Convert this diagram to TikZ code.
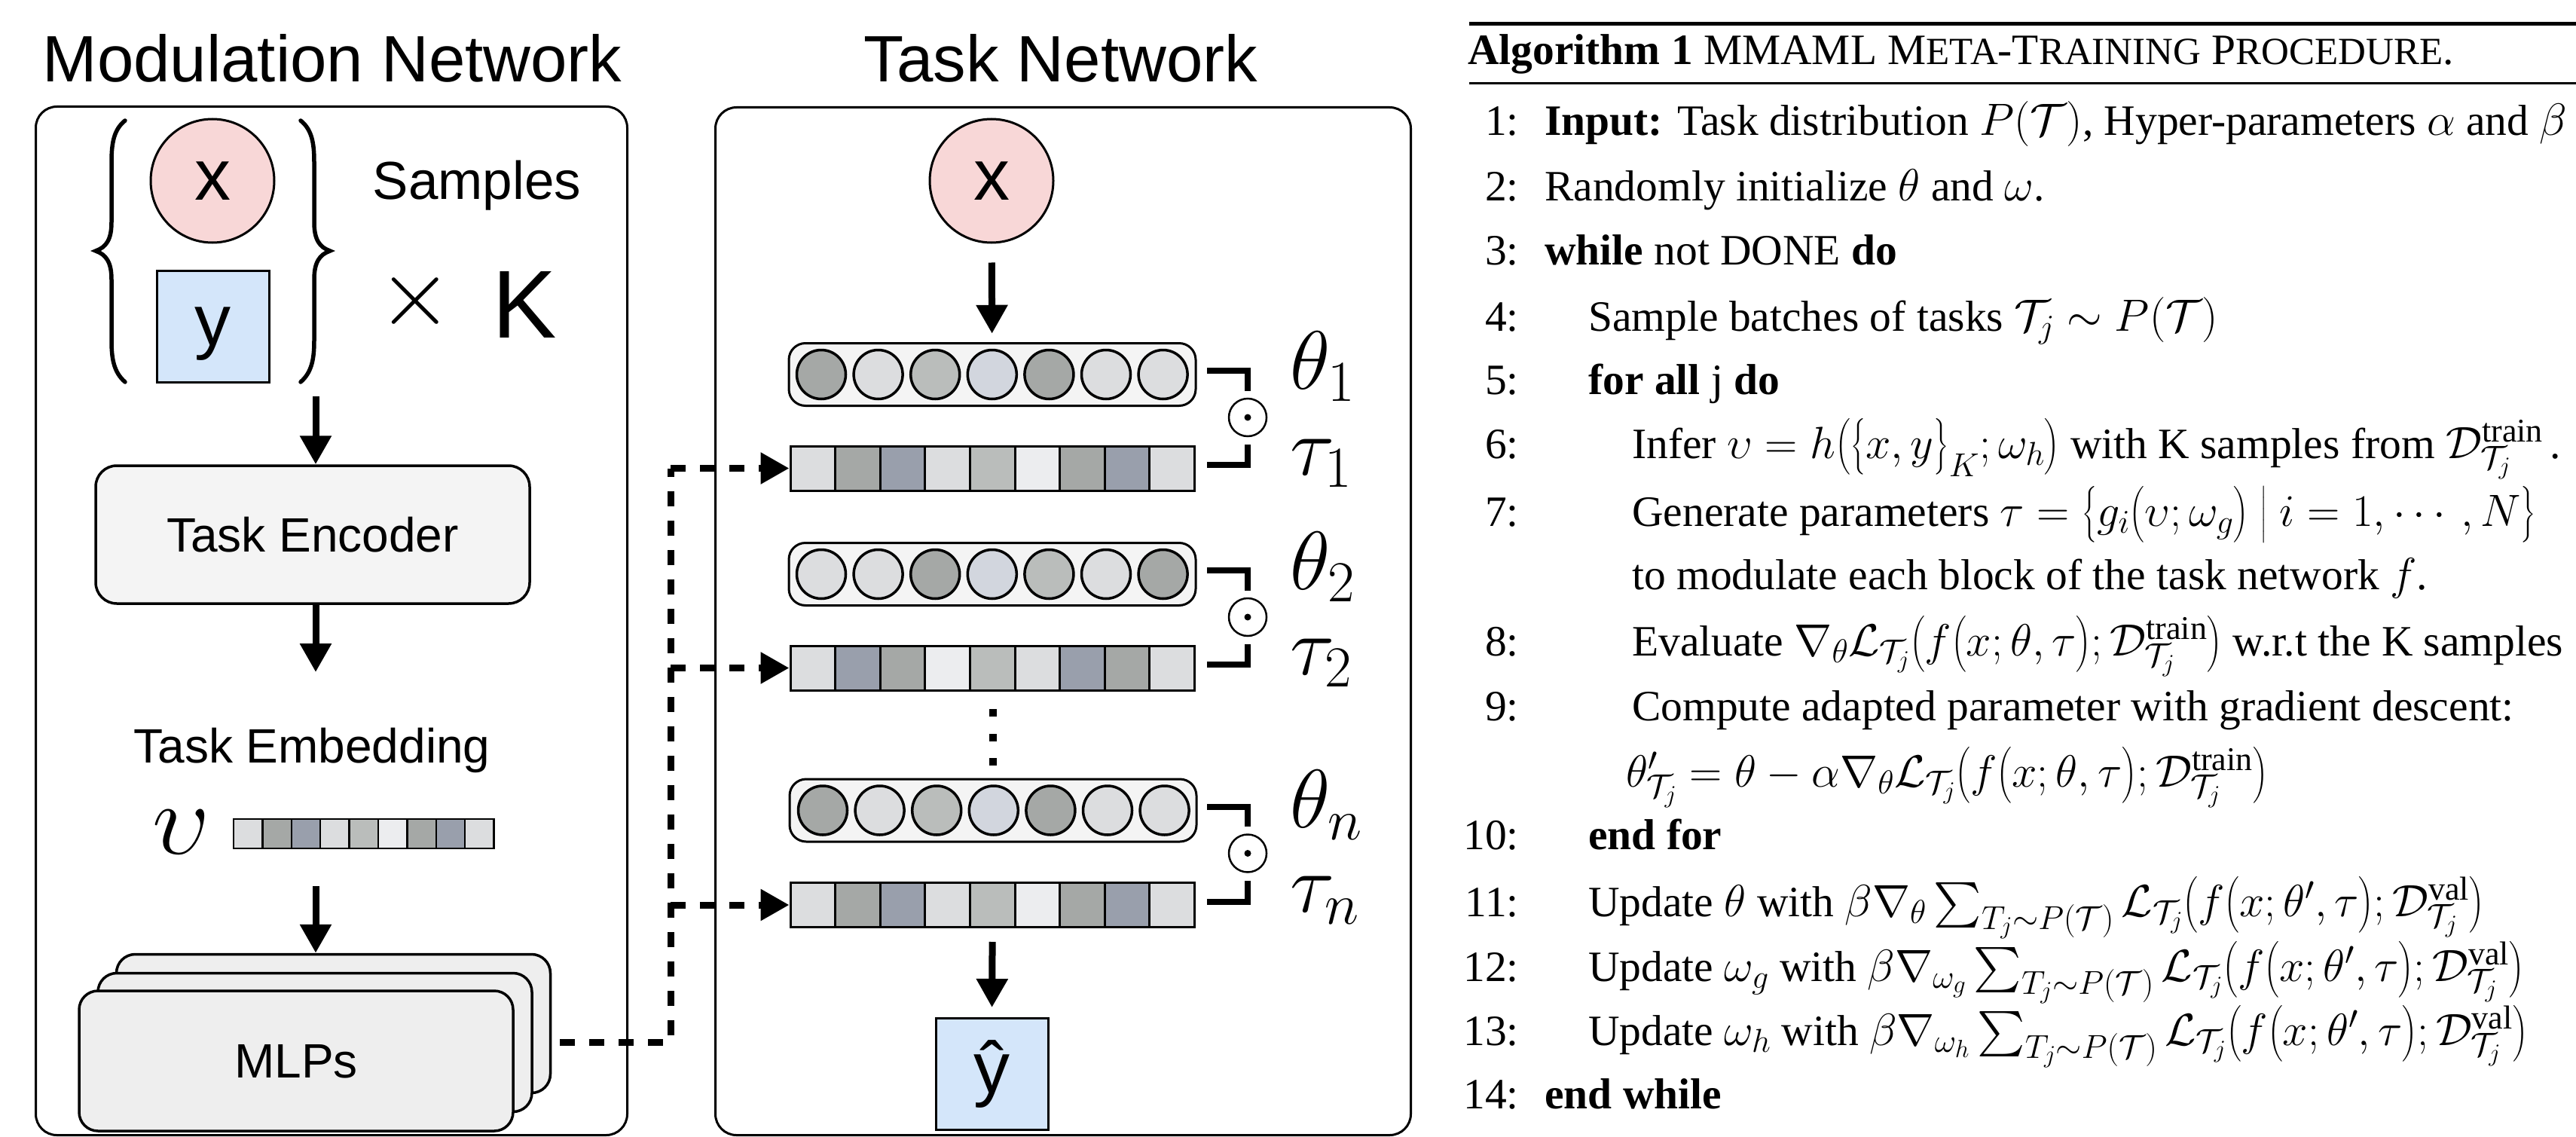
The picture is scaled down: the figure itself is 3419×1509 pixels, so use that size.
\RequirePackage{fix-cm}
\documentclass[tikz,border=0pt]{standalone}
\usepackage{amsmath}
\usepackage{graphicx}
\usepackage{fontspec}
\newfontfamily\diagfont{Liberation Sans}
\newfontfamily\algofont{Liberation Serif}
\usetikzlibrary{arrows.meta}
\DeclareMathSizes{57.5}{60}{44}{33}
\definecolor{cpink}{HTML}{F8D7D7}
\definecolor{cblue}{HTML}{D4E6FA}
\definecolor{cL}{HTML}{DCDDDF}
\definecolor{cG}{HTML}{A5A8A6}
\definecolor{cB}{HTML}{999FAC}
\definecolor{cM}{HTML}{BABDBB}
\definecolor{cV}{HTML}{ECEDEF}
\definecolor{cP}{HTML}{D2D6DE}
\definecolor{cbox}{HTML}{F4F4F4}
\definecolor{cmlp}{HTML}{EEEEEE}
\newcommand\AL{\algofont\fontsize{57.5}{69}\selectfont}
\newcommand\scf{\fontsize{51}{55}\selectfont}
\newcommand\DF[1]{\diagfont\fontsize{#1}{#1}\selectfont}
\newcommand\Sum{\mathop{\scalebox{6}{\fontsize{10}{12}\selectfont$\textstyle\sum$}}\nolimits}
\begin{document}
\begin{tikzpicture}[x=1pt,y=-1pt,
  frame/.style={draw, line width=3pt, rounded corners=28pt, inner sep=0pt},
  title/.style={anchor=base, inner sep=0pt, font=\DF{87}},
  lbl/.style={anchor=base, inner sep=0pt, font=\DF{64}},
  encbox/.style={draw, line width=3.5pt, fill=cbox, rounded corners=28pt, minimum width=576pt, minimum height=183pt, inner sep=0pt, font=\DF{64}},
  mlpbox/.style={draw, line width=3.5pt, fill=cmlp, rounded corners=25pt, minimum width=576pt, minimum height=184pt, inner sep=0pt},
  inpcirc/.style={circle, draw, line width=3pt, fill=cpink, minimum size=164pt, inner sep=0pt, font=\DF{96}},
  outbox/.style={draw, line width=3pt, fill=cblue, minimum width=149pt, minimum height=148pt, inner sep=0pt, font=\DF{96}},
  arr/.style={line width=9pt, -{Triangle[length=38pt,width=40pt]}},
  dashconn/.style={line width=9pt, dash pattern=on 20pt off 19pt},
  dasharr/.style={line width=9pt, dash pattern=on 20pt off 19pt, -{Triangle[length=38pt,width=40pt]}},
  ecell/.style={draw, line width=2.5pt, minimum width=38.4pt, minimum height=39pt, inner sep=0pt},
  tcell/.style={draw, line width=3pt, minimum width=59.6pt, minimum height=59pt, inner sep=0pt},
  neuron/.style={circle, draw, line width=3.5pt, minimum size=65pt, inner sep=0pt},
  thbox/.style={draw, line width=3pt, fill=cbox, rounded corners=22pt, minimum width=540pt, minimum height=83pt, inner sep=0pt},
  odot/.style={circle, draw, line width=2.5pt, minimum size=50pt, inner sep=0pt},
  brk/.style={line width=8pt},
  mathlbl/.style={anchor=base west, inner sep=0pt, font=\fontsize{110}{110}\selectfont},
  dotsq/.style={fill=black, minimum size=10pt, inner sep=0pt},
  brace/.style={line width=5.5pt, line cap=round},
  algl/.style={anchor=base west, inner sep=0pt, font=\AL},
  algn/.style={anchor=base east, inner sep=0pt, font=\AL}
]
\fill[white] (0,0) rectangle (3419,1509);
\useasboundingbox (0,0) rectangle (3419,1509);

% ---------- Modulation network ----------
\node[title] (tmod) at (441,109) {Modulation Network};
\node[frame, minimum width=785pt, minimum height=1365pt, anchor=north west] (modbox) at (46,140) {};

\node[inpcirc] (xin) at (282,240) {x};
\node[outbox, text depth=0pt] (yin) at (282.5,433) {y};
\draw[brace] (166,160) .. controls (151,172) and (148,190) .. (148,215) -- (148,295)
  .. controls (148,318) and (141,328) .. (127,333) .. controls (141,338) and (148,348) .. (148,371)
  -- (148,452) .. controls (148,476) and (151,494) .. (166,507);
\draw[brace] (399,160) .. controls (414,172) and (417,190) .. (417,215) -- (417,295)
  .. controls (417,318) and (424,328) .. (438,333) .. controls (424,338) and (417,348) .. (417,371)
  -- (417,452) .. controls (417,476) and (414,494) .. (399,507);
\node[anchor=base, inner sep=0pt, font=\DF{71}] (samples) at (633,264) {Samples};
\node[inner sep=0pt, font=\fontsize{128}{128}\selectfont] (times) at (551,399) {$\times$};
\node[anchor=base, inner sep=0pt, font=\DF{128}] (kk) at (696,448) {K};

\node[encbox] (enc) at (415,709.5) {Task Encoder};
\coordinate (s1) at (419,526);
\draw[arr] (s1) -- (s1 |- enc.north);

\node[lbl] (embtxt) at (414,1012) {Task Embedding};
\coordinate (e1) at (419,892);
\draw[arr] (s1 |- enc.south) -- (e1);

\node[inner sep=0pt, anchor=base, font=\fontsize{135}{135}\selectfont] (ups) at (241,1133) {$\upsilon$};
\foreach \c [count=\i] in {cL,cG,cB,cL,cM,cV,cG,cB,cL}
  \node[ecell, fill=\c] (emb\i) at ({310+38.4*(\i-0.5)},1106.5) {};

\node[mlpbox] (mlpc) at (442.5,1358.5) {};
\node[mlpbox] (mlpb) at (418,1383.5) {};
\node[mlpbox, minimum height=186pt, text depth=0pt, font=\DF{64}] (mlpa) at (393,1408) {MLPs};
\coordinate (m1) at (419,1176);
\draw[arr] (m1) -- (m1 |- mlpc.north);

% ---------- Task network ----------
\node[title] (ttask) at (1408,109) {Task Network};
\node[frame, minimum width=923pt, minimum height=1364pt, anchor=north west] (taskbox) at (948,141) {};
\node[inpcirc] (xt) at (1316,240) {x};

% theta / tau rows
\node[thbox] (th1) at (1317,497) {};
\foreach \c [count=\i] in {cG,cL,cM,cP,cG,cL,cL}
  \node[neuron, fill=\c] (th1n\i) at ({1090+75.6*(\i-1)},497) {};
\foreach \c [count=\i] in {cL,cG,cB,cL,cM,cV,cG,cB,cL}
  \node[tcell, fill=\c] (ta1c\i) at ({1049+59.6*(\i-0.5)},621.5) {};

\node[thbox] (th2) at (1317,762) {};
\foreach \c [count=\i] in {cL,cL,cG,cP,cM,cL,cG}
  \node[neuron, fill=\c] (th2n\i) at ({1090+75.6*(\i-1)},762) {};
\foreach \c [count=\i] in {cL,cB,cG,cV,cM,cL,cB,cG,cL}
  \node[tcell, fill=\c] (ta2c\i) at ({1049+59.6*(\i-0.5)},886.5) {};

\node[thbox] (th3) at (1318,1075.5) {};
\foreach \c [count=\i] in {cG,cL,cM,cP,cG,cL,cL}
  \node[neuron, fill=\c] (th3n\i) at ({1092+75.6*(\i-1)},1075.5) {};
\foreach \c [count=\i] in {cL,cG,cB,cL,cM,cV,cG,cB,cL}
  \node[tcell, fill=\c] (ta3c\i) at ({1049+59.6*(\i-0.5)},1201) {};

\foreach \yy [count=\i] in {946,979,1011}
  \node[dotsq] (vd\i) at (1318,\yy) {};

% odot and brackets
\foreach \r/\yt/\ya in {1/497/621.5, 2/762/886.5, 3/1075.5/1201}{
  \node[odot] (od\r) at (1656,\yt+57) {};
  \fill (od\r.center) circle (4.5pt);
  \draw[brk] (1602,\yt-5) -| ([yshift=9pt]od\r.north);
  \draw[brk] ([yshift=-10pt]od\r.south) |- (1602,\ya-4.5);
}
\node[mathlbl] (lth1) at (1712,516) {$\theta_1$};
\node[mathlbl] (lta1) at (1712,630) {$\tau_1$};
\node[mathlbl] (lth2) at (1712,782) {$\theta_2$};
\node[mathlbl] (lta2) at (1712,895) {$\tau_2$};
\node[mathlbl] (lth3) at (1712,1098) {$\theta_n$};
\node[mathlbl] (lta3) at (1712,1210) {$\tau_n$};

\node[outbox] (yhat) at (1316.5,1425.5) {ŷ};

\draw[arr, shorten <=25pt, shorten >=20pt] (xt) -- (th1n4);
\draw[arr, shorten <=18pt, shorten >=13pt] (ta3c5.south) -- (yhat.north);

% dashed connectors
\coordinate (dstart) at (743,1383);
\coordinate (vb) at (890,1383);
\coordinate (vt) at (890,621.5);
\draw[dashconn] (dstart) -- (vb) -- (vt);
\draw[dasharr] (vt) -- (ta1c1.west);
\draw[dasharr] (vb |- ta2c1.west) -- (ta2c1.west);
\draw[dasharr] (vb |- ta3c1.west) -- (ta3c1.west);

% ---------- Algorithm ----------
\draw[line width=5pt] (1950,31.5) -- (3430,31.5);
\draw[line width=3pt] (1950,110.5) -- (3430,110.5);
\node[algl] (ah) at (1948,86) {\textbf{Algorithm 1} MMAML M{\scf ETA}-T{\scf RAINING} P{\scf ROCEDURE}.};

\node[algn] (n1) at (2016,179) {1:};
\node[algl] (a1) at (2050,179) {\textbf{Input:} Task distribution $P(\mathcal{T})$, Hyper-parameters $\alpha$ and $\beta$};
\node[algn] (n2) at (2016,266) {2:};
\node[algl] (a2) at (2050,266) {Randomly initialize $\theta$ and $\omega$.};
\node[algn] (n3) at (2016,351) {3:};
\node[algl] (a3) at (2050,351) {\textbf{while} not DONE \textbf{do}};
\node[algn] (n4) at (2016,439) {4:};
\node[algl] (a4) at (2108,439) {Sample batches of tasks $\mathcal{T}_j \sim P(\mathcal{T})$};
\node[algn] (n5) at (2016,523) {5:};
\node[algl] (a5) at (2108,523) {\textbf{for all} j \textbf{do}};
\node[algn] (n6) at (2016,608) {6:};
\node[algl] (a6) at (2166,608) {Infer $\upsilon = h\bigl(\bigl\{x,y\bigr\}_K;\omega_h\bigr)$ with K samples from $\mathcal{D}^{\text{train}}_{\mathcal{T}_j}$\,.};
\node[algn] (n7) at (2016,698) {7:};
\node[algl] (a7) at (2166,698) {Generate parameters $\tau = \bigl\{g_i\bigl(\upsilon;\omega_g\bigr) \bigm| i=1,\cdots,N\bigr\}$};
\node[algl] (a7b) at (2166,782) {to modulate each block of the task network $f$.};
\node[algn] (n8) at (2016,870) {8:};
\node[algl] (a8) at (2166,870) {Evaluate $\nabla_\theta\mathcal{L}_{\mathcal{T}_j}\bigl(f\bigl(x;\theta,\tau\bigr);\mathcal{D}^{\text{train}}_{\mathcal{T}_j}\bigr)$ w.r.t the K samples};
\node[algn] (n9) at (2016,956) {9:};
\node[algl] (a9) at (2166,956) {Compute adapted parameter with gradient descent:};
\node[algl] (a9b) at (2158,1044) {$\theta'_{\mathcal{T}_j} = \theta - \alpha\nabla_\theta\mathcal{L}_{\mathcal{T}_j}\bigl(f\bigl(x;\theta,\tau\bigr);\mathcal{D}^{\text{train}}_{\mathcal{T}_j}\bigr)$};
\node[algn] (n10) at (2016,1127) {10:};
\node[algl] (a10) at (2108,1127) {\textbf{end for}};
\node[algn] (n11) at (2016,1216) {11:};
\node[algl] (a11) at (2108,1216) {Update $\theta$ with $\beta\nabla_\theta\Sum_{T_j\sim P(\mathcal{T})}\mathcal{L}_{\mathcal{T}_j}\bigl(f\bigl(x;\theta',\tau\bigr);\mathcal{D}^{\text{val}}_{\mathcal{T}_j}\bigr)$};
\node[algn] (n12) at (2016,1302) {12:};
\node[algl] (a12) at (2108,1302) {Update $\omega_g$ with $\beta\nabla_{\omega_g}\Sum_{T_j\sim P(\mathcal{T})}\mathcal{L}_{\mathcal{T}_j}\bigl(f\bigl(x;\theta',\tau\bigr);\mathcal{D}^{\text{val}}_{\mathcal{T}_j}\bigr)$};
\node[algn] (n13) at (2016,1387) {13:};
\node[algl] (a13) at (2108,1387) {Update $\omega_h$ with $\beta\nabla_{\omega_h}\Sum_{T_j\sim P(\mathcal{T})}\mathcal{L}_{\mathcal{T}_j}\bigl(f\bigl(x;\theta',\tau\bigr);\mathcal{D}^{\text{val}}_{\mathcal{T}_j}\bigr)$};
\node[algn] (n14) at (2016,1471) {14:};
\node[algl] (a14) at (2050,1471) {\textbf{end while}};
\end{tikzpicture}
\end{document}
